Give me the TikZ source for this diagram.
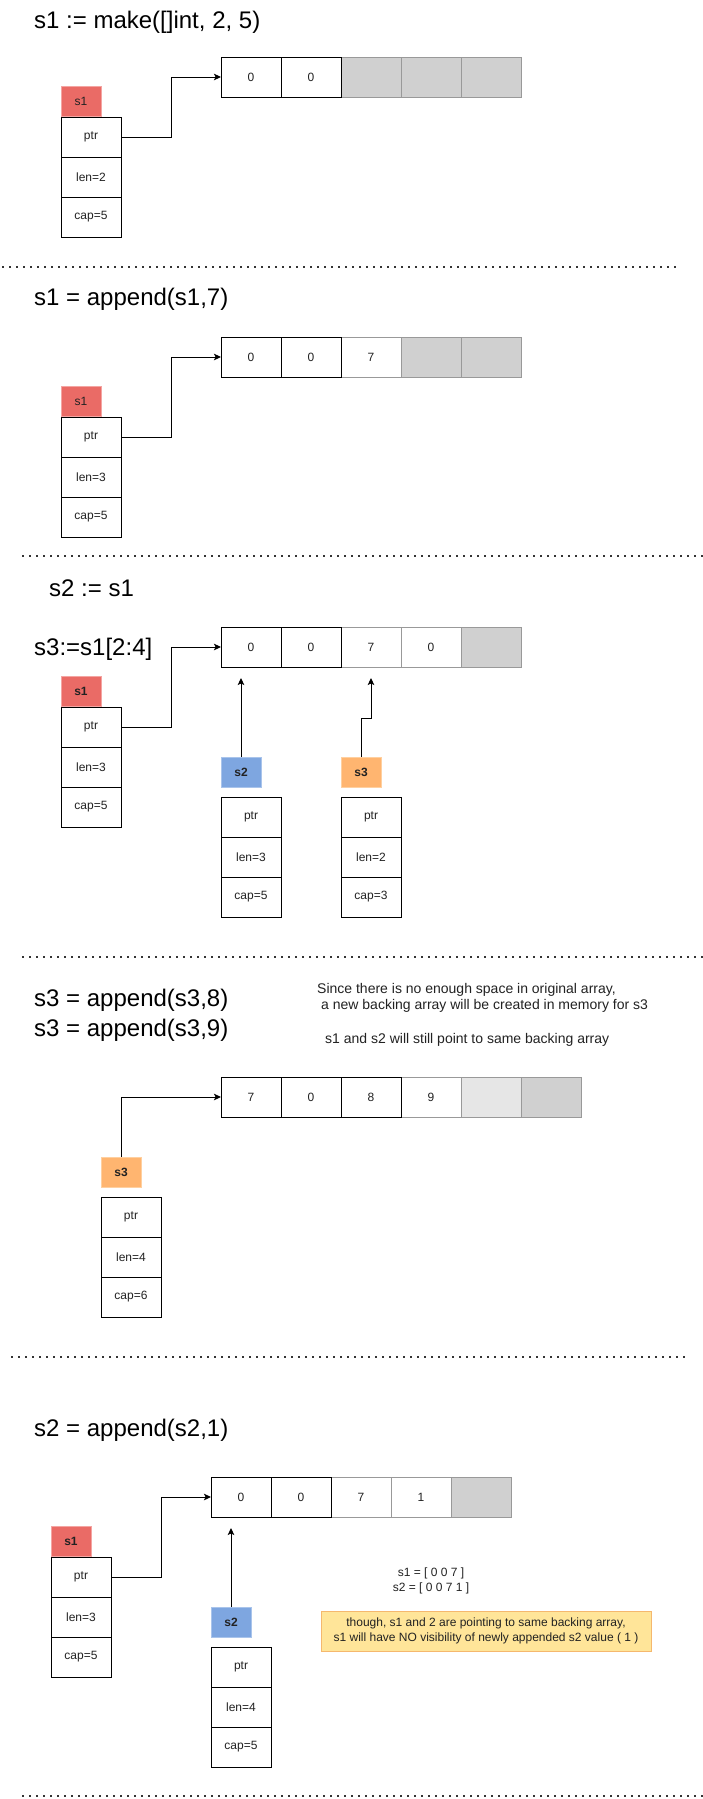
\documentclass[tikz,border=0pt]{standalone}
\usepackage{fontspec}
\setmainfont{Liberation Sans}
\usetikzlibrary{arrows.meta}
\definecolor{cred}{HTML}{EA6B66}
\definecolor{credb}{HTML}{F4A5A2}
\definecolor{cblue}{HTML}{7EA6E0}
\definecolor{cblueb}{HTML}{A9C4EB}
\definecolor{corange}{HTML}{FFB570}
\definecolor{coranb}{HTML}{FFD0A0}
\definecolor{cgray}{HTML}{999999}
\definecolor{cfill}{HTML}{D0D0D0}
\definecolor{clight}{HTML}{E6E6E6}
\definecolor{cyel}{HTML}{FFE599}
\definecolor{cyelb}{HTML}{F5B86E}
\definecolor{dotc}{HTML}{333333}
\definecolor{txt}{HTML}{222222}
\tikzset{
  fsmall/.style={font=\fontsize{12}{14.4}\selectfont},
  cellk/.style={rectangle, draw=black, fill=white, line width=1pt,
    minimum width=60pt, minimum height=40pt, inner sep=0pt, outer sep=0pt,
    anchor=north west, fsmall, text=txt},
  cellg/.style={cellk, draw=cgray},
  cellf/.style={cellg, fill=cfill},
  celll/.style={cellg, fill=clight},
  lbl/.style={rectangle, line width=1pt, minimum width=40pt, minimum height=30pt,
    inner sep=0pt, outer sep=0pt, anchor=north west, fsmall, text=txt},
  lred/.style={lbl, fill=cred, draw=credb},
  lblue/.style={lbl, fill=cblue, draw=cblueb},
  lorange/.style={lbl, fill=corange, draw=coranb},
  bold/.style={font=\fontsize{12}{14.4}\selectfont\bfseries},
  conn/.style={draw=black, line width=1pt, -{Stealth[length=7pt,width=6.5pt,inset=1.5pt]}},
  sepline/.style={draw=dotc, line width=2pt, dash pattern=on 2pt off 5pt},
  title/.style={anchor=base west, inner sep=0pt, font=\fontsize{24}{28.8}\selectfont},
  notetext/.style={anchor=base west, inner sep=0pt, font=\fontsize{14}{16.8}\selectfont, text=txt},
}
\begin{document}
\begin{tikzpicture}[x=1pt,y=-1pt]
\useasboundingbox (0,0) rectangle (703,1799);
\fill[white] (0,0) rectangle (703,1799);

% ---------- Section 1 ----------
\node[title] (t1) at (34,28) {s1 := make([]int, 2, 5)};
\node[cellf] (a1c3) at (341,57) {};
\node[cellf] (a1c4) at (401,57) {};
\node[cellf] (a1c5) at (461,57) {};
\node[cellk] (a1c1) at (221,57) {0};
\node[cellk] (a1c2) at (281,57) {0};
\node[lred] (l1) at (61,86) {s1};
\node[cellk] (p1) at (61,117) {ptr};
\node[cellk] (n1) at (61,157) {len=2};
\node[cellk] (c1) at (61,197) {cap=5};
\draw[conn] (p1.east) -- ++(50,0) |- (a1c1.west);
\coordinate (d1a) at (2,267);
\coordinate (d1b) at (678,267);
\draw[sepline] (d1a) -- (d1b);

% ---------- Section 2 ----------
\node[title] (t2) at (34,305) {s1 = append(s1,7)};
\node[cellg] (a2c3) at (341,337) {7};
\node[cellf] (a2c4) at (401,337) {};
\node[cellf] (a2c5) at (461,337) {};
\node[cellk] (a2c1) at (221,337) {0};
\node[cellk] (a2c2) at (281,337) {0};
\node[lred] (l2) at (61,386) {s1};
\node[cellk] (p2) at (61,417) {ptr};
\node[cellk] (n2) at (61,457) {len=3};
\node[cellk] (c2) at (61,497) {cap=5};
\draw[conn] (p2.east) -- ++(50,0) |- (a2c1.west);
\coordinate (d2a) at (22,556);
\coordinate (d2b) at (703,556);
\draw[sepline] (d2a) -- (d2b);

% ---------- Section 3 ----------
\node[title] (t3a) at (49,596) {s2 := s1};
\node[title] (t3b) at (34,655) {s3:=s1[2:4]};
\node[cellg] (a3c3) at (341,627) {7};
\node[cellg] (a3c4) at (401,627) {0};
\node[cellf] (a3c5) at (461,627) {};
\node[cellk] (a3c1) at (221,627) {0};
\node[cellk] (a3c2) at (281,627) {0};
\node[lred, bold] (l3a) at (61,676) {s1};
\node[cellk] (p3a) at (61,707) {ptr};
\node[cellk] (n3a) at (61,747) {len=3};
\node[cellk] (c3a) at (61,787) {cap=5};
\draw[conn] (p3a.east) -- ++(50,0) |- (a3c1.west);
\node[lblue, bold] (l3b) at (221,757) {s2};
\node[cellk] (p3b) at (221,797) {ptr};
\node[cellk] (n3b) at (221,837) {len=3};
\node[cellk] (c3b) at (221,877) {cap=5};
\coordinate (s2t) at (241,678);
\draw[conn] (l3b.north) -- (s2t);
\node[lorange, bold] (l3c) at (341,757) {s3};
\node[cellk] (p3c) at (341,797) {ptr};
\node[cellk] (n3c) at (341,837) {len=2};
\node[cellk] (c3c) at (341,877) {cap=3};
\coordinate (s3t) at (371,678);
\draw[conn] (l3c.north) -- ++(0,-39) -| (s3t);
\coordinate (d3a) at (22,957);
\coordinate (d3b) at (703,957);
\draw[sepline] (d3a) -- (d3b);

% ---------- Section 4 ----------
\node[title] (t4a) at (34,1006) {s3 = append(s3,8)};
\node[title] (t4b) at (34,1036) {s3 = append(s3,9)};
\node[notetext] (m4a) at (317,993) {Since there is no enough space in original array,};
\node[notetext] (m4b) at (321,1009) {a new backing array will be created in memory for s3};
\node[notetext] (m4c) at (325,1043) {s1 and s2 will still point to same backing array};
\node[cellg] (a4c4) at (401,1077) {9};
\node[celll] (a4c5) at (461,1077) {};
\node[cellf] (a4c6) at (521,1077) {};
\node[cellk] (a4c1) at (221,1077) {7};
\node[cellk] (a4c2) at (281,1077) {0};
\node[cellk] (a4c3) at (341,1077) {8};
\node[lorange, bold] (l4) at (101,1157) {s3};
\node[cellk] (p4) at (101,1197) {ptr};
\node[cellk] (n4) at (101,1237) {len=4};
\node[cellk] (c4) at (101,1277) {cap=6};
\draw[conn] (l4.north) |- (a4c1.west);
\coordinate (d4a) at (11,1357);
\coordinate (d4b) at (686,1357);
\draw[sepline] (d4a) -- (d4b);

% ---------- Section 5 ----------
\node[title] (t5) at (34,1436) {s2 = append(s2,1)};
\node[cellg] (a5c3) at (331,1477) {7};
\node[cellg] (a5c4) at (391,1477) {1};
\node[cellf] (a5c5) at (451,1477) {};
\node[cellk] (a5c1) at (211,1477) {0};
\node[cellk] (a5c2) at (271,1477) {0};
\node[lred, bold] (l5a) at (51,1526) {s1};
\node[cellk] (p5a) at (51,1557) {ptr};
\node[cellk] (n5a) at (51,1597) {len=3};
\node[cellk] (c5a) at (51,1637) {cap=5};
\draw[conn] (p5a.east) -- ++(50,0) |- (a5c1.west);
\node[lblue, bold] (l5b) at (211,1607) {s2};
\node[cellk] (p5b) at (211,1647) {ptr};
\node[cellk] (n5b) at (211,1687) {len=4};
\node[cellk] (c5b) at (211,1727) {cap=5};
\coordinate (s5t) at (231,1528);
\draw[conn] (l5b.north) -- (s5t);
\node[align=center, inner sep=0pt, font=\fontsize{12}{15}\selectfont, text=txt] (v5) at (431,1580.5)
  {s1 = [ 0 0 7 ]\\s2 = [ 0 0 7 1 ]};
\node[rectangle, draw=cyelb, fill=cyel, line width=1pt, minimum width=330pt, minimum height=40pt,
  inner sep=0pt, outer sep=0pt, anchor=north west, align=center,
  font=\fontsize{12}{15.5}\selectfont, text=txt] (y5) at (321,1611)
  {though, s1 and 2 are pointing to same backing array,\\s1 will have NO visibility of newly appended s2 value ( 1 )};
\coordinate (d5a) at (22,1796);
\coordinate (d5b) at (703,1796);
\draw[sepline] (d5a) -- (d5b);
\end{tikzpicture}
\end{document}
